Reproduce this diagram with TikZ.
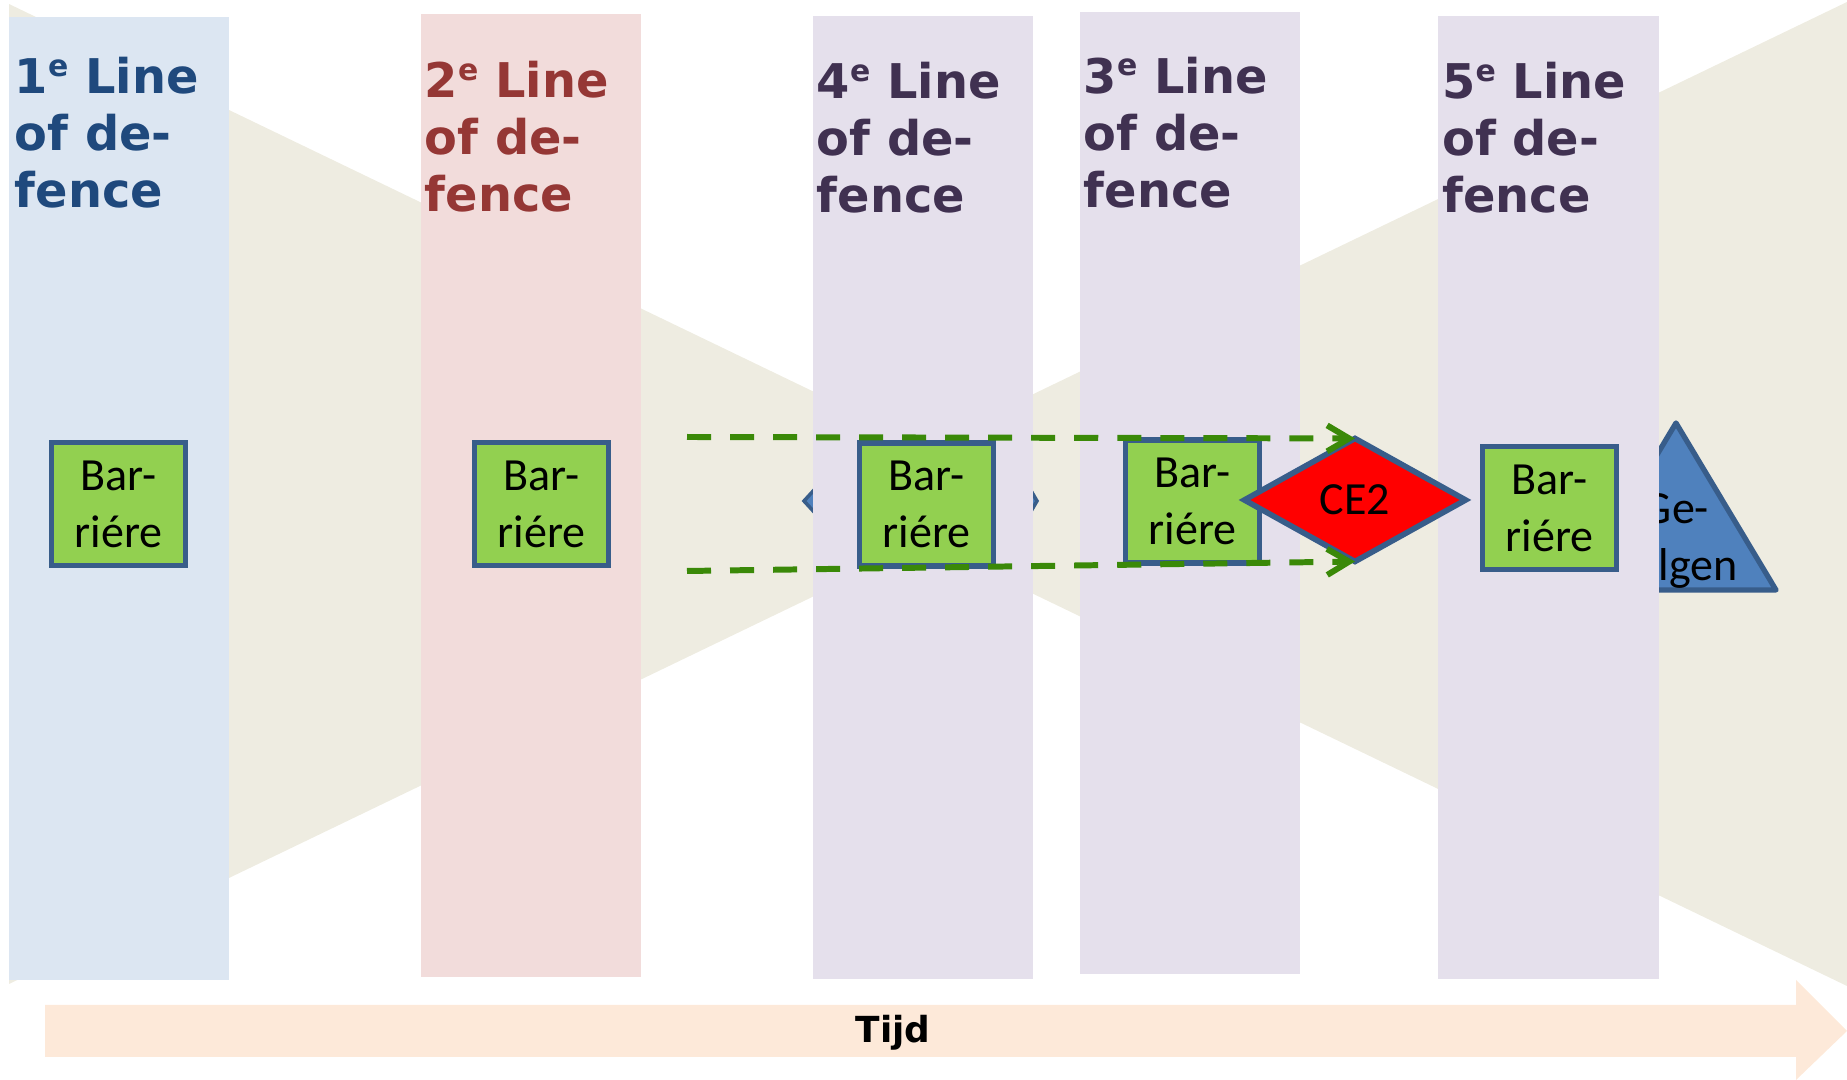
\documentclass[tikz,border=0pt]{standalone}
\usepackage{fontspec}
\usepackage{tikz}
\usetikzlibrary{positioning,shapes.geometric,arrows.meta}

\newfontfamily\headfont{DejaVu Sans}
\newfontfamily\boxfont{Carlito}
\newcommand{\lineord}[1]{#1\raisebox{0.36em}{\fontsize{8.5pt}{8.5pt}\selectfont e}}

\definecolor{bowtiebeige}{HTML}{EEECE1}
\definecolor{fillone}{HTML}{DCE6F2}
\definecolor{filltwo}{HTML}{F2DCDB}
\definecolor{fillrest}{HTML}{E5E0EC}
\definecolor{titleone}{HTML}{1F497D}
\definecolor{titletwo}{HTML}{953735}
\definecolor{titlerest}{HTML}{403151}
\definecolor{barriergreen}{HTML}{92D050}
\definecolor{edgeblue}{HTML}{385D8A}
\definecolor{shapeblue}{HTML}{4F81BD}
\definecolor{eventred}{HTML}{FF0000}
\definecolor{dashgreen}{RGB}{58,137,8}
\definecolor{tijdpeach}{HTML}{FDE9D9}

\begin{document}
\begin{tikzpicture}[x=0.01cm,y=-0.01cm]
    \tikzstyle{every node} = [inner sep=0pt, outer sep=0pt]
    \tikzstyle{defline} = [rectangle, minimum width=2.2cm, minimum height=9.62cm]
    \tikzstyle{linetitle} = [align=left, font=\headfont\bfseries\fontsize{13.6pt}{16.2pt}\selectfont]
    \tikzstyle{boxtext} = [align=center, font=\boxfont\fontsize{13.1pt}{16.2pt}\selectfont]
    \tikzstyle{barrier} = [boxtext, rectangle, draw=edgeblue, line width=1.6pt, fill=barriergreen, minimum width=1.34cm, minimum height=1.23cm]
    \tikzstyle{event} = [boxtext, diamond, draw=edgeblue, line width=1.6pt, fill=eventred, minimum width=2.21cm, minimum height=1.23cm]
    \tikzstyle{dashline} = [draw=dashgreen, line width=1.7pt, dash pattern=on 0.24cm off 0.19cm, -{Straight Barb[length=0.22cm, width=0.26cm]}]
    \useasboundingbox (0,0) rectangle (1847,1080);

    % background bow tie
    \fill[bowtiebeige] (9,4) -- (1026,494) -- (9,984) -- cycle;
    \fill[bowtiebeige] (1847,2) -- (826,494) -- (1847,986) -- cycle;

    % shapes that lie behind the lines
    \draw[edgeblue, line width=1.5pt, fill=shapeblue, line join=round]
    (1676,423) -- (1776,590) -- (1576,590) -- cycle;
    \node[boxtext] (gevolgen) at (1676,541) {Ge-\\volgen};
    \draw[edgeblue, line width=1pt, fill=shapeblue]
    (804,501) -- (815,489) -- (1030,489) -- (1037,501) -- (1030,513) -- (815,513) -- cycle;

    % lines of defence
    \node[defline, fill=fillone] (line1) at (119,498.5) {};
    \node[defline, fill=filltwo] (line2) at (531,495.5) {};
    \node[defline, fill=fillrest] (line3) at (923,497.5) {};
    \node[defline, fill=fillrest] (line4) at (1190,493) {};
    \node[defline, fill=fillrest] (line5) at (1548.5,497.5) {};

    \node[linetitle, text=titleone, below right=0.40cm and 0.06cm of line1.north west] (title1) {\lineord{1} Line\\of de-\\fence};
    \node[linetitle, text=titletwo, below right=0.47cm and 0.04cm of line2.north west] (title2) {\lineord{2} Line\\of de-\\fence};
    \node[linetitle, text=titlerest, below right=0.46cm and 0.04cm of line3.north west] (title3) {\lineord{4} Line\\of de-\\fence};
    \node[linetitle, text=titlerest, below right=0.45cm and 0.04cm of line4.north west] (title4) {\lineord{3} Line\\of de-\\fence};
    \node[linetitle, text=titlerest, below right=0.46cm and 0.04cm of line5.north west] (title5) {\lineord{5} Line\\of de-\\fence};

    % barriers and event
    \node[barrier] (barrier1) at (118.5,504) {Bar-\\riére};
    \node[barrier] (barrier2) at (541.5,504) {Bar-\\riére};
    \node[barrier] (barrier3) at (926.5,504.5) {Bar-\\riére};
    \node[barrier] (barrier4) at (1192.5,501.5) {Bar-\\riére};
    \node[barrier] (barrier5) at (1549.5,508) {Bar-\\riére};
    \node[event] (ce2) at (1355,500) {CE2};

    % Connections
    \coordinate (dashtop) at (687,437);
    \coordinate (dashbot) at (687,571);
    \draw[dashline] (dashtop) -- (ce2.north);
    \draw[dashline] (dashbot) -- (ce2.south);

    % time axis
    \fill[tijdpeach] (45,1005) -- (1796,1005) -- (1796,980) -- (1847,1031)
    -- (1796,1080) -- (1796,1057) -- (45,1057) -- cycle;
    \node[anchor=base, font=\headfont\bfseries\fontsize{10.2pt}{12pt}\selectfont] (tijd) at (893,1043) {Tijd};

  \end{tikzpicture}
\end{document}
